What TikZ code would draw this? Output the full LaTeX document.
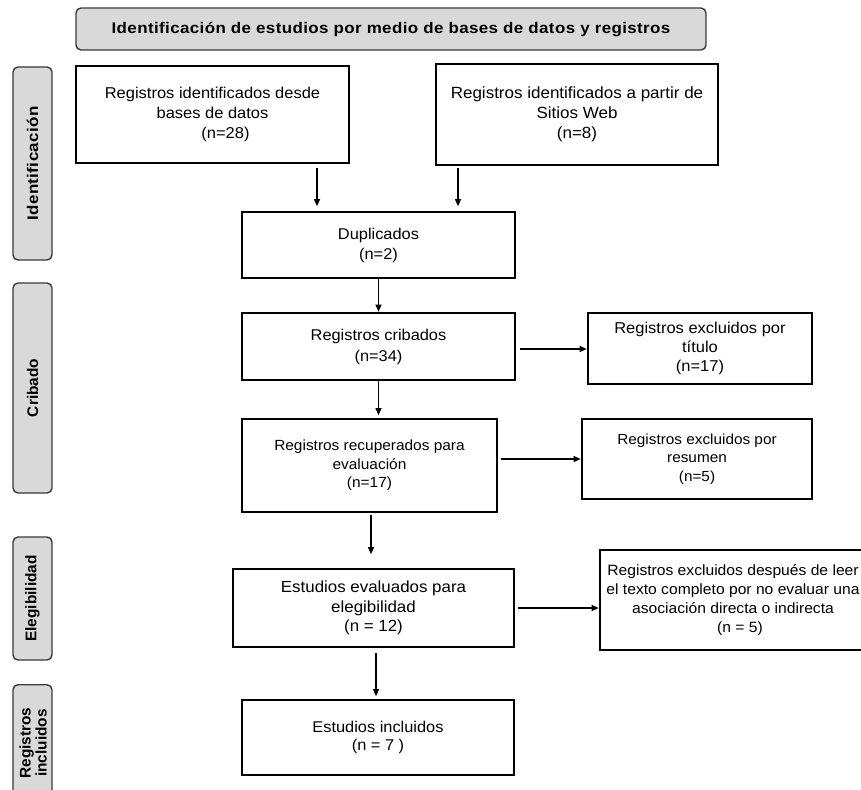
\documentclass[tikz,border=0pt]{standalone}
\usepackage{fontspec}
\setmainfont[FakeStretch=1.05]{Liberation Sans}
\newfontfamily\labfont{Liberation Sans}
\newfontfamily\labfontsp[FakeStretch=1.1,LetterSpace=2.5]{Liberation Sans}
\usetikzlibrary{arrows.meta,calc}
\definecolor{labgray}{HTML}{D9D9D9}
\definecolor{labedge}{HTML}{3A3A3A}
\newcommand{\fsz}[2]{\fontsize{#1}{#2}\selectfont}
\begin{document}
\begin{tikzpicture}[x=1pt,y=-1pt,
  box/.style={draw=black,line width=1.7pt,align=center,inner sep=0pt},
  arr/.style={-{Triangle[length=7pt,width=6pt]},line width=1.1pt},
  lab/.style={draw=labedge,fill=labgray,line width=1.4pt,rounded corners=5pt,inner sep=0pt,align=center,font=\labfont\bfseries\fsz{15.4}{16}}]
\useasboundingbox[fill=white] (0,0) rectangle (861,789);

% banner
\node[lab,minimum width=630pt,minimum height=42pt,font=\labfontsp\bfseries\fsz{15.4}{18}] (banner) at (391,29)
  {Identificación de estudios por medio de bases de datos y registros};

% side labels
\node[lab,rotate=90,minimum width=193pt,minimum height=39pt,font=\labfontsp\bfseries\fsz{15.4}{16}] (labId) at (32.5,163.5) {Identificación};
\node[lab,rotate=90,minimum width=210pt,minimum height=39pt] (labCrib) at (32.5,388) {Cribado};
\node[lab,rotate=90,minimum width=123pt,minimum height=39pt] (labEleg) at (32.5,598.5) {Elegibilidad};
\node[lab,rotate=90,minimum width=110pt,minimum height=39pt,anchor=east] (labInc) at (32.5,684) {};
\node[rotate=90,align=center,font=\labfont\bfseries\fsz{15.4}{16},inner sep=0pt] (labIncT) at (33,743) {Registros\\incluidos};

% boxes
\node[box,minimum width=273pt,minimum height=97pt,font=\fsz{15.7}{19.8}] (A) at (212.5,114.5)
  {Registros identificados desde\\bases de datos\\\hspace*{26pt}(n=28)};
\node[box,minimum width=282pt,minimum height=101pt,font=\fsz{16.2}{20}] (B) at (577,114.5)
  {Registros identificados a partir de\\Sitios Web\\(n=8)};
\node[box,minimum width=273pt,minimum height=66pt,font=\fsz{15.6}{20}] (Dup) at (378.5,245)
  {Duplicados\\(n=2)};
\node[box,minimum width=273pt,minimum height=67pt,font=\fsz{15.6}{21}] (Crib) at (378.5,346.5)
  {Registros cribados\\(n=34)};
\node[box,minimum width=224pt,minimum height=71pt,font=\fsz{15.7}{19}] (Tit) at (700,348.5)
  {Registros excluidos por\\título\\(n=17)};
\node[box,minimum width=255pt,minimum height=93pt,font=\fsz{14.7}{18.5}] (Rec) at (369.5,465.5)
  {Registros recuperados para\\evaluación\\(n=17)};
\node[box,minimum width=230pt,minimum height=80pt,font=\fsz{14.6}{18.5}] (Res) at (697,459)
  {Registros excluidos por\\resumen\\(n=5)};
\node[box,minimum width=281pt,minimum height=78pt,font=\fsz{16.1}{19.5}] (Eval) at (373.5,608)
  {Estudios evaluados para\\elegibilidad\\(n = 12)};
\node[box,minimum width=266pt,minimum height=100pt,font=\fsz{14.9}{19}] (Desp) at (733,600)
  {Registros excluidos después de leer\\el texto completo por no evaluar una\\asociación directa o indirecta\\\hspace*{14pt}(n = 5)};
\node[box,minimum width=272pt,minimum height=75pt,font=\fsz{15.6}{18}] (Inc) at (378,737.5)
  {Estudios incluidos\\(n = 7 )};

% connectors
\coordinate (xa) at (317,0);
\coordinate (xb) at (458,0);
\draw[arr,shorten <=4pt,shorten >=5pt] (xa |- A.south) -- (xa |- Dup.north);
\draw[arr,shorten <=4pt,shorten >=5pt] (xb |- A.south) -- (xb |- Dup.north);
\draw[arr,shorten >=0.5pt] (Dup.south) -- (Dup.south |- Crib.north);
\draw[arr,shorten <=4pt,shorten >=0.5pt] ([yshift=-2.5pt]Crib.east) -- ([yshift=-2.5pt]Crib.east -| Tit.west);
\draw[arr,shorten >=3pt] (Crib.south) -- (Crib.south |- Rec.north);
\draw[arr,shorten <=3pt,shorten >=0.5pt] ([yshift=6.5pt]Rec.east) -- ([yshift=6.5pt]Rec.east -| Res.west);
\draw[arr,shorten <=2pt,shorten >=14pt] ([xshift=1.5pt]Rec.south) -- ([xshift=1.5pt]Rec.south |- Eval.north);
\draw[arr,shorten <=3pt,shorten >=0.5pt] (Eval.east) -- (Eval.east -| Desp.west);
\draw[arr,shorten <=5pt,shorten >=3pt] ([xshift=2.5pt]Eval.south) -- ([xshift=2.5pt]Eval.south |- Inc.north);
\end{tikzpicture}
\end{document}
